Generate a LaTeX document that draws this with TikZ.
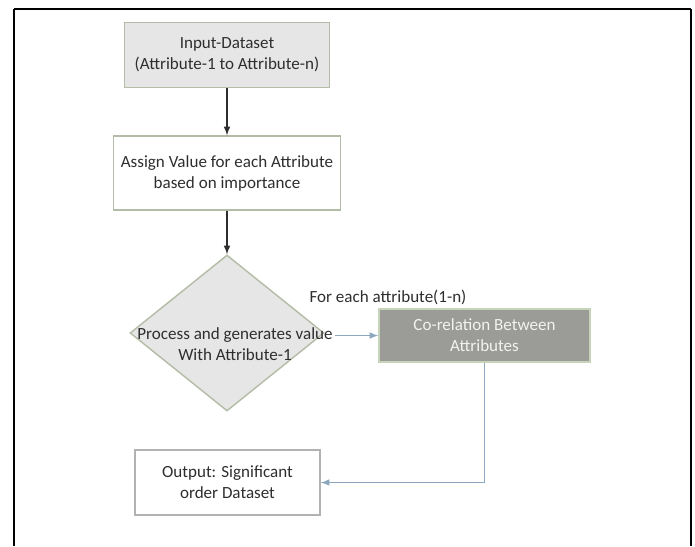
\documentclass[tikz,border=0pt]{standalone}
\usepackage{fontspec}
\setmainfont{Carlito}
\usetikzlibrary{shapes.geometric, positioning}
\definecolor{boxedge}{HTML}{B3BCA6}
\definecolor{lightfill}{HTML}{E6E6E6}
\definecolor{darkfill}{HTML}{9B9C97}
\definecolor{darkedge}{HTML}{C6D4B9}
\definecolor{textgray}{HTML}{2E2E2E}
\definecolor{flowblue}{HTML}{8CA7BE}

\begin{document}
\begin{tikzpicture}[x=0.2mm, y=-0.2mm]
    % Setup the style for the boxes
        \tikzset{box style/.style={rectangle,
                                   draw=boxedge,
                                   line width=0.8pt,
                                   inner sep=0pt,
                                   align=center,
                                   text=textgray,
                                   font=\fontsize{9.7}{12}\selectfont}}
        \useasboundingbox (0,0) rectangle (695,546);

        % Frame of the page
        \draw[line width=1.7pt] (14,9) -- (691,9);
        \draw[line width=1.1pt] (14,546) -- (14,9);
        \draw[line width=1.1pt] (691,9) -- (691,546);

        % Draw the boxes
        \node[box style, fill=lightfill, minimum width=41mm, minimum height=13mm] at (227, 55) (inp) {Input-Dataset\\(Attribute-1 to Attribute-n)};
        \node[box style, fill=white, minimum width=45.4mm, minimum height=14.8mm] at (227, 173) (assign) {Assign Value for each Attribute\\based on importance};
        \node[box style, diamond, fill=lightfill, minimum width=38.8mm, minimum height=31.2mm] at (227, 333) (proc) {};
        \node[align=center, text=textgray, font=\fontsize{9.7}{12}\selectfont, inner sep=1pt] at (235, 344) (proctext) {Process and generates value\\With Attribute-1};
        \node[box style, fill=darkfill, draw=darkedge, text=white!90!gray, minimum width=42.2mm, minimum height=10.6mm] at (484.5, 335.5) (corr) {Co-relation Between\\Attributes};
        \node[text=textgray, font=\fontsize{9.7}{12}\selectfont, inner sep=0pt] at (388, 297) (each) {For each attribute(1-n)};
        \node[box style, fill=white, draw=gray!60, minimum width=37mm, minimum height=13mm] at (227.5, 482.5) (out) {Output: Significant\\order Dataset};

        % Connect the boxes with arrows
        \draw[-latex, line width=0.7pt, draw=textgray] (inp) -- (assign);
        \draw[-latex, line width=0.7pt, draw=textgray] (assign) -- (proc);
        \draw[-latex, line width=0.7pt, draw=flowblue] (proctext.east |- corr.west) -- (corr.west);
        \draw[-latex, line width=0.7pt, draw=flowblue] (corr.south) |- (out.east);
\end{tikzpicture}
\end{document}
